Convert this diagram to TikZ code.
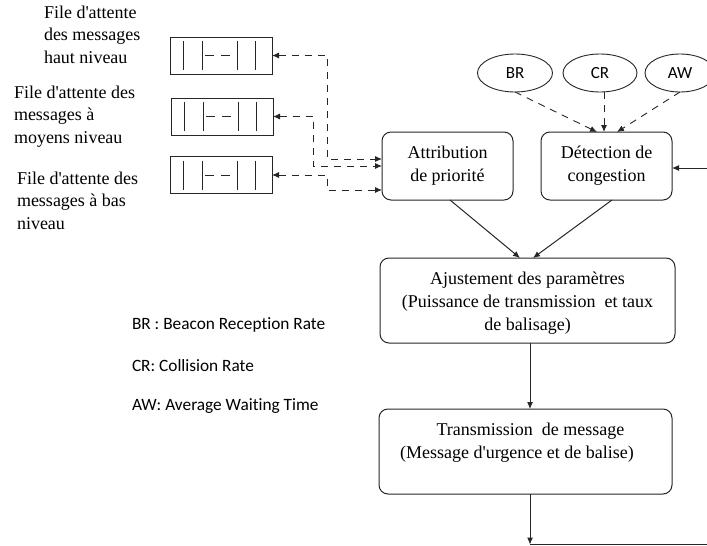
\documentclass[tikz,border=0pt]{standalone}
\usepackage{fontspec}
\setmainfont{Liberation Serif}[Ligatures=TeXOff]
\newfontfamily\legfont{Carlito}[Ligatures=NoCommon]
\usetikzlibrary{arrows.meta,shapes.geometric}
\begin{document}
\begin{tikzpicture}[x=1pt,y=-1pt,
  every node/.style={inner sep=0pt,outer sep=0pt},
  lbl/.style={font=\fontsize{18}{22.5}\selectfont,align=left,anchor=north west},
  procbox/.style={draw=black!85,line width=1pt,rounded corners=9pt},
  proctext/.style={align=center,font=\fontsize{18}{23}\selectfont},
  queuebox/.style={draw=black!85,line width=1pt,minimum width=102pt,minimum height=37pt},
  metric/.style={draw=black!85,line width=0.9pt,ellipse,minimum width=75pt,minimum height=38pt,font=\legfont\fontsize{17}{20}\selectfont},
  legend/.style={anchor=west,font=\legfont\fontsize{17.3}{20}\selectfont},
  dashlink/.style={draw=black!85,line width=0.9pt,dash pattern=on 7pt off 6pt},
  tip/.style={-{Latex[length=7pt,width=6pt]}},
  tips/.style={{Latex[length=7pt,width=6pt]}-{Latex[length=7pt,width=6pt]}},
  solid link/.style={draw=black!85,line width=1pt}
]
\useasboundingbox (0,0) rectangle (707,546);

% left labels
\node[lbl] (l1) at (44,6) {File d'attente\\des messages\\haut niveau};
\node[lbl] (l2) at (14,86) {File d'attente des\\messages à\\moyens niveau};
\node[lbl] (l3) at (17,172) {File d'attente des\\messages à bas\\niveau};

% queues
\foreach \n/\cx/\cy in {q1/221/55.5, q2/222/116.5, q3/221/175}{
  \node[queuebox] (\n) at (\cx,\cy) {};
  \foreach \dx in {13,32,67,85}{
    \draw[black!85,line width=1pt] ([xshift=\dx pt,yshift=-4pt]\n.north west) -- ([xshift=\dx pt,yshift=4pt]\n.south west);
  }
  \draw[black!85,line width=0.9pt] ([xshift=35pt]\n.west) -- ([xshift=44pt]\n.west);
  \draw[black!85,line width=0.9pt] ([xshift=51pt]\n.west) -- ([xshift=60pt]\n.west);
}

% process boxes
\node[procbox,proctext,minimum width=131pt,minimum height=68pt] (attr) at (447.5,166) {Attribution\\de priorité};
\node[procbox,proctext,minimum width=131pt,minimum height=68pt] (det) at (606.5,166) {Détection de\\congestion};
\node[procbox,minimum width=295pt,minimum height=85pt] (ajust) at (527.5,300.5) {};
\node[proctext] (ajusttxt) at (527.5,303) {Ajustement des paramètres\\(Puissance de transmission\ \ et taux\\de balisage)};
\node[procbox,minimum width=293pt,minimum height=85pt] (trans) at (525.5,451.5) {};
\node[proctext] (transtxt) at (517,443) {\ \ \ \ \ \ Transmission\ \ de message\\(Message d'urgence et de balise)};

% metrics
\node[metric] (br) at (515,73) {BR};
\node[metric,minimum width=74pt] (cr) at (600,73) {CR};
\node[metric,minimum width=70pt] (aw) at (680,73) {AW};

% queue links
\draw[dashlink,tips] (q1.east) -- (327,55.5) -- (327,159) -- (attr.west |- 0,159);
\draw[dashlink,tips] (q2.east) -- (313,116.5) -- (313,166) -- (attr.west |- 0,166);
\draw[dashlink,tips] (q3.east) -- (327,175) -- (327,190) -- (attr.west |- 0,190);

% metric links
\draw[dashlink,tip] (br.south) -- ([xshift=-9.5pt]det.north);
\draw[dashlink,tip] (cr.south -| 604,0) -- ([xshift=-2.5pt]det.north);
\draw[dashlink,tip] (aw.south) -- ([xshift=10.5pt]det.north);

% input from right
\coordinate (rin) at (707,168);
\draw[solid link,tip] (rin) -- (det.east |- rin);

% main flow
\draw[solid link,tip] ([xshift=2.5pt]attr.south) -- ([xshift=-7.5pt]ajust.north);
\draw[solid link,tip] ([xshift=5.5pt]det.south) -- ([xshift=5.5pt]ajust.north);
\draw[solid link,tip] (ajust.south -| 530,0) -- (trans.north -| 530,0);
\coordinate (bot) at (530,544.5);
\coordinate (botr) at (707,544.5);
\draw[solid link,tip] (trans.south -| bot) -- (bot);
\draw[solid link] (bot) -- (botr);

% legend
\node[legend] (lg1) at (132,325) {BR : Beacon Reception Rate};
\node[legend] (lg2) at (132,366) {CR: Collision Rate};
\node[legend] (lg3) at (132,406) {AW: Average Waiting Time};
\end{tikzpicture}
\end{document}
